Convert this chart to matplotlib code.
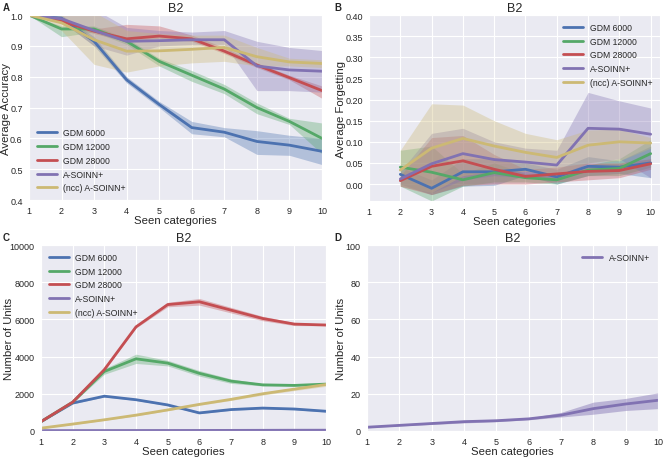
import numpy as np
import seaborn as sns
from matplotlib import pyplot as plt

sns.set_style("darkgrid")
plt.rcParams['font.family'] = ['Liberation Sans', 'DejaVu Sans']

x = np.arange(1, 11)
names = ["GDM 6000", "GDM 12000", "GDM 28000", "A-SOINN+", "(ncc) A-SOINN+"]
colors = ["#4C72B0", "#55A868", "#C44E52", "#8172B2", "#CCB974"]

# A: average accuracy (mean, lower, upper)
acc_gdm6 = [1.0, 0.99, 0.915, 0.79, 0.71, 0.635, 0.62, 0.59, 0.578, 0.558]
acc_gdm6_lo = [1.0, 0.98, 0.90, 0.78, 0.70, 0.615, 0.605, 0.548, 0.545, 0.515]
acc_gdm6_hi = [1.0, 1.0, 0.93, 0.80, 0.72, 0.655, 0.635, 0.625, 0.61, 0.60]
acc_gdm12 = [1.0, 0.955, 0.955, 0.915, 0.85, 0.805, 0.76, 0.70, 0.655, 0.60]
acc_gdm12_lo = [1.0, 0.93, 0.945, 0.905, 0.835, 0.785, 0.745, 0.68, 0.645, 0.55]
acc_gdm12_hi = [1.0, 0.965, 0.965, 0.925, 0.86, 0.82, 0.775, 0.715, 0.665, 0.65]
acc_gdm28 = [1.0, 0.98, 0.948, 0.923, 0.932, 0.923, 0.883, 0.838, 0.797, 0.755]
acc_gdm28_lo = [1.0, 0.975, 0.94, 0.915, 0.925, 0.915, 0.875, 0.83, 0.79, 0.73]
acc_gdm28_hi = [1.0, 0.985, 0.955, 0.97, 0.965, 0.935, 0.895, 0.845, 0.805, 0.77]
acc_asoinn = [1.0, 0.988, 0.95, 0.915, 0.917, 0.92, 0.92, 0.835, 0.822, 0.818]
acc_asoinn_lo = [1.0, 0.98, 0.90, 0.87, 0.90, 0.905, 0.905, 0.755, 0.755, 0.75]
acc_asoinn_hi = [1.0, 1.0, 1.02, 0.96, 0.95, 0.945, 0.95, 0.915, 0.895, 0.885]
acc_ncc = [1.0, 0.975, 0.92, 0.883, 0.884, 0.889, 0.895, 0.865, 0.848, 0.843]
acc_ncc_lo = [1.0, 0.95, 0.84, 0.815, 0.835, 0.845, 0.85, 0.835, 0.835, 0.83]
acc_ncc_hi = [1.0, 1.0, 1.01, 0.95, 0.94, 0.935, 0.935, 0.895, 0.86, 0.855]

# B: average forgetting, from 2 seen categories on
xf = np.arange(2, 11)
fg_gdm6 = [0.023, -0.01, 0.029, 0.029, 0.035, 0.017, 0.042, 0.04, 0.05]
fg_gdm6_lo = [0.0, -0.025, -0.005, -0.003, 0.02, 0.0, 0.02, 0.025, 0.015]
fg_gdm6_hi = [0.04, 0.01, 0.06, 0.06, 0.05, 0.035, 0.065, 0.055, 0.09]
fg_gdm12 = [0.04, 0.028, 0.01, 0.027, 0.015, 0.01, 0.033, 0.037, 0.072]
fg_gdm12_lo = [-0.005, -0.04, -0.005, 0.005, 0.005, 0.0, 0.02, 0.02, 0.04]
fg_gdm12_hi = [0.08, 0.09, 0.025, 0.05, 0.025, 0.02, 0.045, 0.06, 0.105]
fg_gdm28 = [0.008, 0.042, 0.055, 0.035, 0.018, 0.024, 0.03, 0.032, 0.048]
fg_gdm28_lo = [-0.005, -0.025, -0.003, 0.0, 0.0, 0.005, 0.01, 0.015, 0.035]
fg_gdm28_hi = [0.02, 0.11, 0.115, 0.07, 0.035, 0.04, 0.05, 0.05, 0.06]
fg_asoinn = [0.012, 0.048, 0.072, 0.058, 0.052, 0.045, 0.132, 0.13, 0.118]
fg_asoinn_lo = [-0.005, -0.02, 0.01, 0.02, 0.015, 0.01, 0.05, 0.06, 0.015]
fg_asoinn_hi = [0.03, 0.12, 0.132, 0.10, 0.085, 0.08, 0.217, 0.197, 0.18]
fg_ncc = [0.033, 0.085, 0.108, 0.09, 0.075, 0.063, 0.092, 0.10, 0.097]
fg_ncc_lo = [-0.005, -0.02, 0.02, 0.03, 0.03, 0.02, 0.05, 0.055, 0.085]
fg_ncc_hi = [0.08, 0.19, 0.187, 0.15, 0.12, 0.105, 0.128, 0.13, 0.11]

# C: number of units (mean, half width of band)
un_gdm6 = [500, 1500, 1870, 1680, 1400, 970, 1150, 1230, 1180, 1060]
un_gdm6_w = [20, 40, 40, 40, 40, 40, 40, 40, 40, 40]
un_gdm12 = [500, 1550, 3200, 3880, 3650, 3100, 2680, 2480, 2450, 2520]
un_gdm12_w = [20, 40, 150, 250, 150, 150, 120, 60, 40, 40]
un_gdm28 = [500, 1550, 3300, 5600, 6800, 6950, 6500, 6050, 5750, 5700]
un_gdm28_w = [20, 40, 60, 60, 120, 180, 150, 120, 80, 40]
un_asoinn = [18, 20, 22, 24, 25, 27, 30, 34, 38, 40]
un_asoinn_w = [2, 2, 2, 2, 2, 2, 2, 4, 4, 6]
un_ncc = [150, 370, 600, 850, 1130, 1430, 1700, 2000, 2250, 2500]
un_ncc_w = [20, 30, 30, 40, 40, 50, 60, 70, 80, 100]

# D: A-SOINN+ units only
d_asoinn = [2.0, 3.0, 4.0, 5.0, 5.5, 6.5, 8.5, 12.0, 14.5, 16.5]
d_asoinn_lo = [1.7, 2.7, 3.5, 4.3, 5.0, 6.0, 7.5, 9.0, 11.0, 12.0]
d_asoinn_hi = [2.3, 3.3, 4.5, 5.7, 6.0, 7.0, 10.0, 15.5, 17.5, 20.5]

acc = [(acc_gdm6, acc_gdm6_lo, acc_gdm6_hi), (acc_gdm12, acc_gdm12_lo, acc_gdm12_hi),
       (acc_gdm28, acc_gdm28_lo, acc_gdm28_hi), (acc_asoinn, acc_asoinn_lo, acc_asoinn_hi),
       (acc_ncc, acc_ncc_lo, acc_ncc_hi)]
fg = [(fg_gdm6, fg_gdm6_lo, fg_gdm6_hi), (fg_gdm12, fg_gdm12_lo, fg_gdm12_hi),
      (fg_gdm28, fg_gdm28_lo, fg_gdm28_hi), (fg_asoinn, fg_asoinn_lo, fg_asoinn_hi),
      (fg_ncc, fg_ncc_lo, fg_ncc_hi)]
un = [(un_gdm6, un_gdm6_w), (un_gdm12, un_gdm12_w), (un_gdm28, un_gdm28_w),
      (un_asoinn, un_asoinn_w), (un_ncc, un_ncc_w)]

fig = plt.figure(figsize=(6.69, 4.60), dpi=100)
axA = fig.add_axes([0.0433, 0.563, 0.438, 0.402])
axB = fig.add_axes([0.5516, 0.561, 0.4350, 0.404])
axC = fig.add_axes([0.0613, 0.061, 0.426, 0.404])
axD = fig.add_axes([0.5486, 0.061, 0.435, 0.404])

leg_kw = dict(frameon=False, fontsize=6.2, handlelength=2.3, labelspacing=0.55)
lw = 2.0

for (m, lo, hi), name, c in zip(acc, names, colors):
    axA.fill_between(x, lo, hi, color=c, alpha=0.35, lw=0)
    axA.plot(x, m, color=c, lw=lw, label=name)
axA.set_ylim(0.4, 1.0)
axA.set_xlim(1, 10)
axA.set_ylabel("Average Accuracy")
axA.legend(loc="lower left", **leg_kw)

for (m, lo, hi), name, c in zip(fg, names, colors):
    axB.fill_between(xf, lo, hi, color=c, alpha=0.35, lw=0)
    axB.plot(xf, m, color=c, lw=lw, label=name)
axB.set_ylim(-0.04, 0.40)
axB.set_yticks(np.arange(0, 0.41, 0.05))
axB.set_xlim(1, 10.3)
axB.set_ylabel("Average Forgetting")
axB.legend(loc="upper right", **leg_kw)

for (m, w), name, c in zip(un, names, colors):
    m = np.array(m)
    w = np.array(w)
    axC.fill_between(x, m - w, m + w, color=c, alpha=0.35, lw=0)
    axC.plot(x, m, color=c, lw=lw, label=name)
axC.set_ylim(0, 10000)
axC.set_xlim(1, 10)
axC.set_ylabel("Number of Units")
axC.legend(loc="upper left", **leg_kw)

axD.fill_between(x, d_asoinn_lo, d_asoinn_hi, color=colors[3], alpha=0.45, lw=0)
axD.plot(x, d_asoinn, color=colors[3], lw=lw, label="A-SOINN+")
axD.set_ylim(0, 100)
axD.set_xlim(1, 10)
axD.set_ylabel("Number of Units")
axD.legend(loc="upper right", **leg_kw)

label_x = {"A": -0.062, "B": -0.080, "C": -0.095, "D": -0.073}
for ax, letter in zip([axA, axB, axC, axD], "ABCD"):
    ax.set_xticks(x)
    ax.set_title("B2", fontsize=9, pad=3)
    ax.set_xlabel("Seen categories", fontsize=8.2, labelpad=0)
    ax.yaxis.label.set_size(8.2)
    ax.tick_params(labelsize=6.5, pad=1)
    ax.yaxis.set_label_coords(label_x[letter], 0.5)

fig.text(3 / 669, 1 - 8 / 460, "A", fontsize=7, fontweight="bold", va="center")
fig.text(334 / 669, 1 - 8 / 460, "B", fontsize=7, fontweight="bold", va="center")
fig.text(3 / 669, 1 - 238 / 460, "C", fontsize=7, fontweight="bold", va="center")
fig.text(334 / 669, 1 - 238 / 460, "D", fontsize=7, fontweight="bold", va="center")

fig.savefig("out.png", dpi=100)
